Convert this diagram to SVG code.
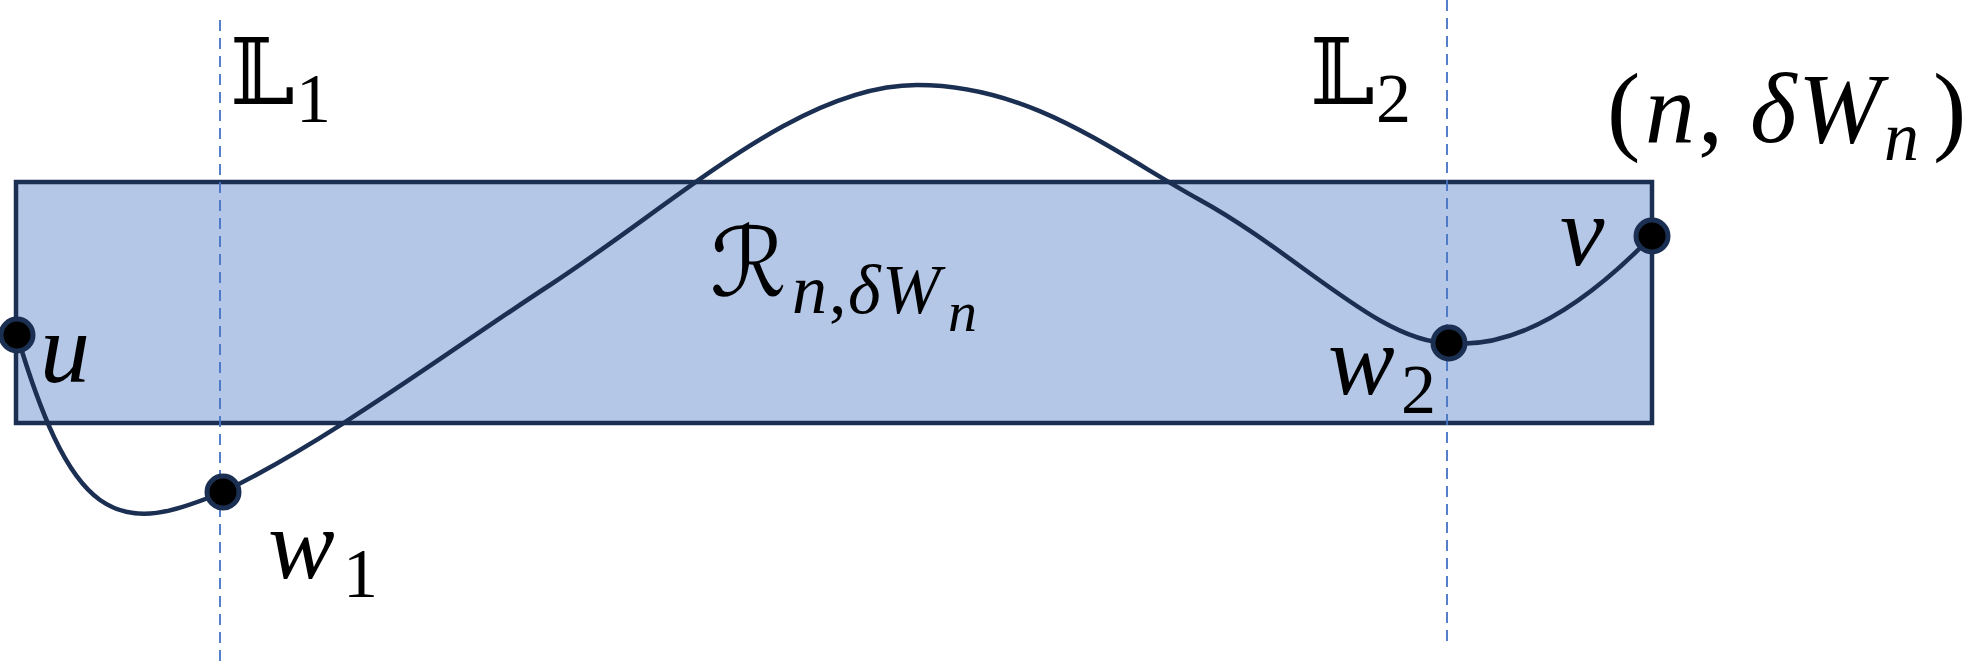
<svg xmlns="http://www.w3.org/2000/svg" width="1986" height="663" viewBox="0 0 1986 663">
<style>
.bg{fill:#ffffff}
.region{fill:#B4C7E7;stroke:#1B2F52;stroke-width:4.5}
.guide{stroke:#4472C4;stroke-width:1.8;stroke-dasharray:11 7;fill:none}
.path{fill:none;stroke:#1B2F52;stroke-width:4.5;stroke-linecap:round}
.pt{fill:#000000;stroke:#1B2F52;stroke-width:5}
.m{font-family:"Liberation Serif","DejaVu Serif",serif;font-size:100px;fill:#000000}
.i{font-style:italic}
.ds{font-family:"DejaVu Serif","DejaVu Sans",serif;font-style:normal}
.sub{font-size:70px}
</style>
<rect class="bg" x="0" y="0" width="1986" height="663"/>
<g id="region-R">
<rect class="region" x="16" y="182" width="1636" height="241"/>
<text class="m i" x="710" y="296"><tspan class="ds" font-size="96">ℛ</tspan><tspan class="sub" x="792" y="313">n</tspan><tspan class="sub" font-style="normal" x="829" y="313">,</tspan><tspan class="sub" x="848" y="313">δ</tspan><tspan class="sub" font-size="76" x="882" y="313">W</tspan><tspan font-size="58" x="948" y="331">n</tspan></text>
</g>
<g id="line-L1">
<line class="guide" x1="220" y1="20" x2="220" y2="663"/>
<text class="m" x="230" y="104"><tspan class="ds" font-size="92">𝕃</tspan><tspan class="sub" x="296" y="122">1</tspan></text>
</g>
<g id="line-L2">
<line class="guide" x1="1447" y1="0" x2="1447" y2="642"/>
<text class="m" x="1310" y="104"><tspan class="ds" font-size="92">𝕃</tspan><tspan class="sub" x="1376" y="122">2</tspan></text>
</g>
<g id="connectors">
<path class="path" d="M17,335 C40,412 65,475 100,500 C135,525 175,512 223,492 C330,440 450,350 550,285 C680,200 800,85 917,85 C1030,85 1110,150 1200,200 C1300,255 1380,343 1449,343 C1520,350 1590,300 1652,236"/>
</g>
<g id="node-u">
<circle class="pt" cx="17" cy="335" r="16"/>
<text class="m i" x="40" y="382">u</text>
</g>
<g id="node-w1">
<circle class="pt" cx="223" cy="492" r="16"/>
<text class="m i" x="268" y="578">w<tspan class="sub" font-style="normal" x="343" y="597">1</tspan></text>
</g>
<g id="node-w2">
<circle class="pt" cx="1449" cy="343" r="16"/>
<text class="m i" x="1328" y="394">w<tspan class="sub" font-style="normal" x="1401" y="413">2</tspan></text>
</g>
<g id="node-v">
<circle class="pt" cx="1652" cy="236" r="16"/>
<text class="m i" x="1560" y="265">v</text>
<text class="m" x="1607" y="142">(<tspan class="i" x="1645">n</tspan><tspan x="1698">,</tspan><tspan class="i" x="1750">δ</tspan><tspan class="i" x="1798">W</tspan><tspan class="i sub" x="1884" y="160">n</tspan><tspan x="1933" y="142">)</tspan></text>
</g>
</svg>
